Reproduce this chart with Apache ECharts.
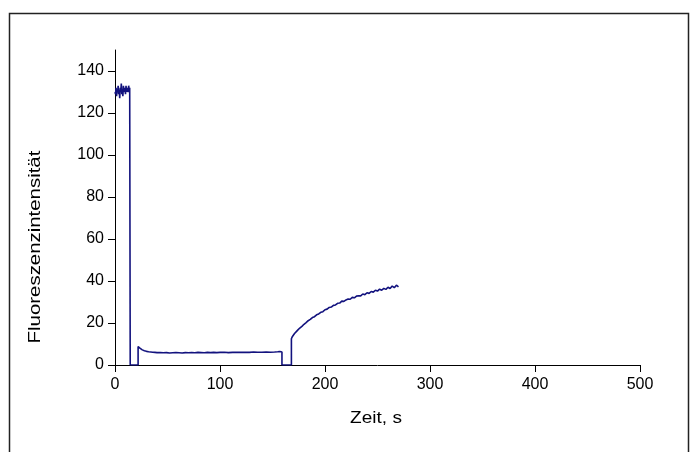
<!DOCTYPE html>
<html><head><meta charset="utf-8">
<script src="https://cdn.jsdelivr.net/npm/echarts@6/dist/echarts.min.js"></script>
<style>html,body{margin:0;padding:0;background:#fff}#c{width:695px;height:452px}</style>
</head><body><div id="c"></div>
<script>
// Segment 1: initial high plateau (~130)
var tA = [0,0.5,1,1.5,2,2.5,3,3.5,4,4.5,5,5.5,6,6.5,7,7.5,8,8.5,9,9.5,10,10.5,11,11.5,12,12.5,13,13.5,14,14.5,14.5];
var vA = [130,129,132,128,131,130,133,129,131,127,132,130,134,129,131,128,133,130,132,131,129,133,130,132,131,130,133,131,132,132,0];
// Segment 2: zero, then low plateau (~6)
var tB = [22,22,23,24,25,26,27,28,30,32,34,36,38,40,43,46,49,52,55,58,61,64,67,70,73,76,79,82,85,88,91,94,97,100,104,108,112,116,120,124,128,132,136,140,144,148,152,155,157,158,158.5,159,159];
var vB = [0,8.8,8.3,7.9,7.5,7.2,7.0,6.8,6.5,6.3,6.2,6.1,6.0,5.9,5.9,5.8,5.9,5.7,5.8,5.9,5.8,5.7,5.9,5.8,5.9,5.8,6.0,5.9,5.8,6.0,5.9,6.0,5.9,6.0,6.1,5.9,6.0,6.1,6.0,6.1,6.0,6.2,6.1,6.1,6.2,6.1,6.2,6.3,6.4,6.6,6.5,6.2,0];
// Segment 3: zero, then recovery rise
var tC = [168,168,169,170,171,172,174,176,178,180,182,184,186,188,190,192,194,196,198,200,202,204,206,208,210,212,214,216,218,220,222,224,226,228,230,232,234,236,238,240,242,244,246,248,250,252,254,256,258,260,262,264,266,268,270];
var vC = [0,12.5,13.6,14.3,15.0,15.6,16.6,17.6,18.4,19.4,20.2,21.1,21.7,22.6,23.0,23.9,24.3,25.1,25.4,26.3,26.6,27.4,27.6,28.4,28.6,29.4,29.5,30.4,30.3,31.0,31.4,31.3,32.2,32.0,32.8,33.0,32.9,33.8,33.5,34.4,34.1,35.0,34.7,35.6,35.2,36.1,35.6,36.5,36.0,37.0,36.4,37.6,36.8,38.0,37.2];

var xTicks = [0,100,200,300,400,500];
var yTicks = [0,20,40,60,80,100,120,140];
var xTitle = 'Zeit, s';
var yTitle = 'Fluoreszenzintensität';

var times = tA.concat(tB, tC);
var vals = vA.concat(vB, vC);
var data = times.map(function(t,i){return [t, vals[i]];});

var chart = echarts.init(document.getElementById('c'), null, {renderer:'canvas'});
var font = 'Liberation Sans, Arial, sans-serif';
chart.setOption({
  backgroundColor:'#fff',
  animation:false,
  grid:{left:115, right:55, top:50, bottom:87},
  graphic:[
    {type:'rect', shape:{x:9.5, y:13.5, width:679, height:460}, style:{fill:'none', stroke:'#222', lineWidth:1.5}, silent:true},
    {type:'text', x:35, y:247, rotation:Math.PI/2, scaleX:1.2, style:{text:yTitle, font:'17px ' + font, fill:'#000', textAlign:'center', textVerticalAlign:'middle'}},
    {type:'text', x:376, y:418, scaleX:1.12, style:{text:xTitle, font:'17px ' + font, fill:'#000', textAlign:'center', textVerticalAlign:'middle'}}
  ],
  xAxis:{type:'value', min:0, max:500, interval:100,
    axisLine:{lineStyle:{color:'#000', width:1}},
    axisTick:{show:true, inside:false, length:7, lineStyle:{color:'#000'}},
    axisLabel:{color:'#000', fontSize:16, fontFamily:font, margin:12, formatter:function(v){return xTicks.indexOf(v)>=0?String(v):'';}},
    splitLine:{show:false}},
  yAxis:{type:'value', min:0, max:150, interval:10,
    axisLine:{show:true, onZero:false, lineStyle:{color:'#000', width:1}},
    axisTick:{show:true, inside:false, length:7, lineStyle:{color:'#000'},
      customValues: yTicks},
    axisLabel:{color:'#000', fontSize:16, fontFamily:font, margin:11, customValues: yTicks},
    splitLine:{show:false}},
  series:[{type:'line', data:data, showSymbol:false, symbol:'none',
    lineStyle:{color:'#12127e', width:1.6}}]
});
</script></body></html>
